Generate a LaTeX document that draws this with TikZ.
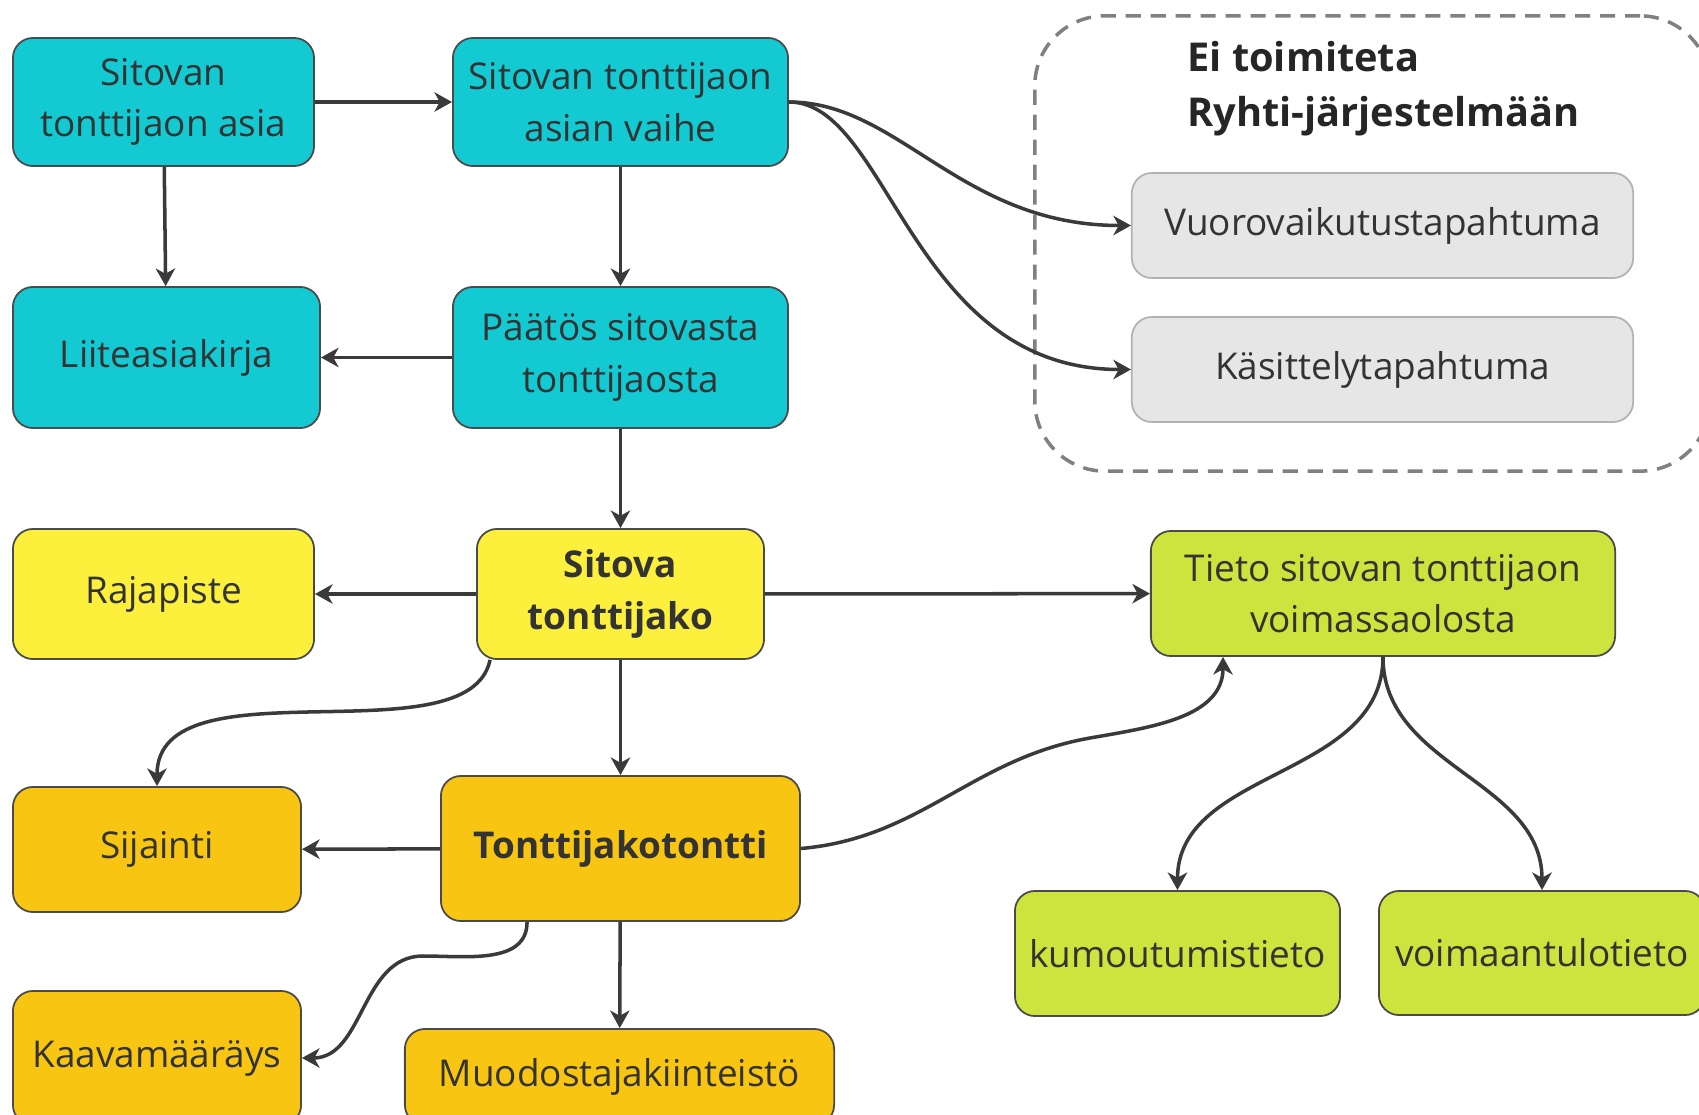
\documentclass[tikz,border=0pt]{standalone}
\usepackage{fontspec}
\setmainfont{Open Sans}
\usetikzlibrary{arrows.meta}

\definecolor{syaani}{HTML}{13CAD3}
\definecolor{keltainen}{HTML}{FDF03C}
\definecolor{kulta}{HTML}{F8C612}
\definecolor{lime}{HTML}{CDE43E}
\definecolor{vaalea}{HTML}{E6E6E6}
\definecolor{reuna}{HTML}{4A4A4A}
\definecolor{teksti}{HTML}{333333}
\definecolor{viiva}{HTML}{3A3A3A}
\definecolor{katko}{HTML}{808080}

\tikzset{
    box/.style={draw=reuna, line width=0.5pt, rounded corners=0.2cm, align=center,
        text=teksti, inner sep=0pt, font=\fontsize{10.5}{14.7}\selectfont},
    boldbox/.style={box, font=\fontsize{10.5}{14.7}\selectfont\bfseries},
    tapahtuma/.style={box, draw=black!30, fill=vaalea, minimum width=5.01cm, minimum height=1.05cm},
    arr/.style={draw=viiva, line width=1pt, -{Stealth[length=5pt,width=5.5pt,inset=1.5pt]}}
}

\begin{document}
\begin{tikzpicture}[x=0.01cm,y=0.01cm]
    \path[use as bounding box, clip] (0,0) rectangle (1699,-1115);

    \node[draw=katko, line width=1pt, dash pattern=on 4.3pt off 2.8pt, rounded corners=0.7cm,
        minimum width=6.75cm, minimum height=4.55cm] (ryhti) at (1372.5,-243.5) {};
    \node[anchor=west, align=left, text=black!85, font=\fontsize{11.3}{15.7}\selectfont\bfseries]
        (otsikko) at (1175,-89) {Ei toimiteta\\Ryhti-järjestelmään};

    \node[box, fill=syaani, minimum width=3.01cm, minimum height=1.28cm] (asia) at (163.5,-102) {Sitovan\\tonttijaon asia};
    \node[box, fill=syaani, minimum width=3.35cm, minimum height=1.28cm] (vaihe) at (620.5,-102) {Sitovan tonttijaon\\asian vaihe};
    \node[box, fill=syaani, minimum width=3.07cm, minimum height=1.41cm] (liite) at (166.5,-357.5) {Liiteasiakirja};
    \node[box, fill=syaani, minimum width=3.35cm, minimum height=1.41cm] (paatos) at (620.5,-357.5) {Päätös sitovasta\\tonttijaosta};

    \node[tapahtuma] (vuoro) at (1382.5,-225.5) {Vuorovaikutustapahtuma};
    \node[tapahtuma] (kasittely) at (1382.5,-369.5) {Käsittelytapahtuma};

    \node[box, fill=keltainen, minimum width=3.01cm, minimum height=1.30cm] (raja) at (163.5,-594) {Rajapiste};
    \node[boldbox, fill=keltainen, minimum width=2.87cm, minimum height=1.30cm] (sitova) at (620.5,-594) {Sitova\\tonttijako};
    \node[box, fill=lime, minimum width=4.64cm, minimum height=1.25cm] (tieto) at (1383,-593.5) {Tieto sitovan tonttijaon\\voimassaolosta};

    \node[box, fill=kulta, minimum width=2.88cm, minimum height=1.25cm] (sijainti) at (157,-849.5) {Sijainti};
    \node[boldbox, fill=kulta, minimum width=3.59cm, minimum height=1.45cm] (tontti) at (620.5,-848.5) {Tonttijakotontti};
    \node[box, fill=kulta, minimum width=2.88cm, minimum height=1.34cm] (kaava) at (157,-1058) {Kaavamääräys};
    \node[box, fill=kulta, minimum width=4.29cm, minimum height=0.96cm] (muod) at (619.5,-1077) {Muodostajakiinteistö};

    \node[box, fill=lime, minimum width=3.25cm, minimum height=1.25cm] (kumous) at (1177.5,-953.5) {kumoutumistieto};
    \node[box, fill=lime, minimum width=3.26cm, minimum height=1.24cm] (voimaan) at (1542,-953) {voimaantulotieto};

    % yhteydet
    \draw[arr] (asia) -- (vaihe);
    \draw[arr] (asia) -- (liite);
    \draw[arr] (vaihe) -- (paatos);
    \draw[arr] (paatos) -- (liite);
    \draw[arr] (paatos) -- (sitova);
    \draw[arr] (vaihe.east) .. controls +(110,0) and +(-170,0) .. (vuoro.west);
    \draw[arr] (vaihe.east) .. controls +(100,0) and +(-220,0) .. (kasittely.west);

    \draw[arr] (sitova) -- (raja);
    \draw[arr] (sitova) -- (tieto);
    \draw[arr] (sitova) -- (tontti);
    \draw[arr] ([xshift=0.14cm]sitova.south west) .. controls +(-21,-101) and +(0,127) .. (sijainti.north);

    \draw[arr] (tontti) -- (sijainti);
    \draw[arr] (tontti) -- (muod);
    \draw[arr] ([xshift=0.87cm]tontti.south west) to[out=-90,in=0] (423,-956) to[out=180,in=0] (kaava.east);
    \draw[arr] (tontti.east) to[out=5,in=190] (1090,-738) to[out=10,in=-90] ([xshift=0.73cm]tieto.south west);

    \draw[arr] (tieto.south) to[out=-90,in=90] (kumous.north);
    \draw[arr] (tieto.south) to[out=-90,in=90] (voimaan.north);
\end{tikzpicture}
\end{document}
